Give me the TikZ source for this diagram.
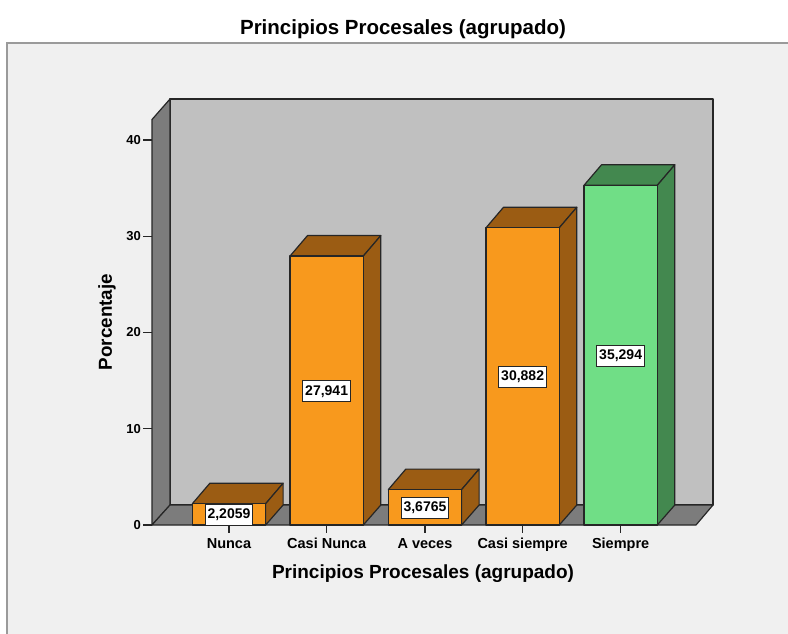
\documentclass[tikz,border=0pt]{standalone}
\usepackage{fontspec}
\setmainfont{Liberation Sans}
\definecolor{bgc}{HTML}{F0F0F0}
\definecolor{framec}{HTML}{9A9A9A}
\definecolor{wallc}{HTML}{C0C0C0}
\definecolor{sidec}{HTML}{7C7C7C}
\definecolor{orangeF}{HTML}{F8991D}
\definecolor{orangeD}{HTML}{9B5C13}
\definecolor{greenF}{HTML}{70DE86}
\definecolor{greenD}{HTML}{43884F}
\definecolor{edgec}{HTML}{262626}
\begin{document}
\begin{tikzpicture}[x=1pt,y=-1pt,
  edge/.style={draw=edgec, line width=1.2pt, line join=round},
  vbox/.style={draw=edgec, fill=white, line width=0.9pt, inner sep=2.5pt, minimum height=21pt,
    font=\bfseries\fontsize{14}{14}\selectfont},
  catlab/.style={anchor=base, inner sep=0pt, font=\bfseries\fontsize{14.5}{15}\selectfont},
  ticklab/.style={anchor=east, inner sep=0pt, font=\bfseries\fontsize{13}{13}\selectfont},
  ticks/.style={draw=edgec, line width=1.2pt}]
\useasboundingbox (0,0) rectangle (788,633);
\fill[white] (0,0) rectangle (788,633);
\path[fill=bgc, draw=framec, line width=1.5pt] (7,43) rectangle (810,660);
\node[font=\bfseries\fontsize{20.5}{21}\selectfont] (title) at (403,29) {Principios Procesales (agrupado)};
% walls and floor
\filldraw[fill=wallc, edge] (170,99) rectangle (713,505);
\filldraw[fill=sidec, edge] (152,119.5) -- (170,99) -- (170,505) -- (152,525) -- cycle;
\filldraw[fill=sidec, edge] (152,525) -- (170,505) -- (713,505) -- (696,525) -- cycle;
% y ticks
\foreach \v in {0,10,20,30,40}{
  \pgfmathsetmacro\ty{525-\v*9.625}
  \coordinate (yt\v) at (152,\ty);
  \draw[ticks] (yt\v) -- ++(-9,0) node[ticklab, xshift=-1.5pt] (yl\v) {\v};
}
\node[rotate=90, font=\bfseries\fontsize{18.8}{19}\selectfont] (ytitle) at (107,322) {Porcentaje};
% bars
\foreach \i/\L/\v/\vt/\fc/\dc/\lab in {
  1/192.3/2.2059/{2,2059}/orangeF/orangeD/Nunca,
  2/290/27.941/{27,941}/orangeF/orangeD/Casi Nunca,
  3/388.3/3.6765/{3,6765}/orangeF/orangeD/A veces,
  4/486/30.882/{30,882}/orangeF/orangeD/Casi siempre,
  5/584/35.294/{35,294}/greenF/greenD/Siempre}{
  \pgfmathsetmacro\T{525-\v*9.625}
  \pgfmathsetmacro\R{\L+73.3}
  \pgfmathsetmacro\C{\L+36.65}
  \pgfmathsetmacro\M{(\T+525)/2+0.8}
  \filldraw[fill=\dc, edge] (\L,\T) -- ++(17.5,-20.5) -- ++(73.3,0) -- (\R,\T) -- cycle;
  \filldraw[fill=\dc, edge] (\R,\T) -- ++(17.5,-20.5) -- ({\R+17.5},505) -- (\R,525) -- cycle;
  \filldraw[fill=\fc, edge] (\L,\T) rectangle (\R,525);
  \node[vbox] (val\i) at (\C,\M) {\vt};
  \coordinate (xt\i) at (\C,525);
  \draw[ticks] (xt\i) -- ++(0,8);
  \node[catlab] (cat\i) at (\C,548) {\lab};
}
\node[font=\bfseries\fontsize{19}{19}\selectfont] (xtitle) at (423,574) {Principios Procesales (agrupado)};
\end{tikzpicture}
\end{document}
